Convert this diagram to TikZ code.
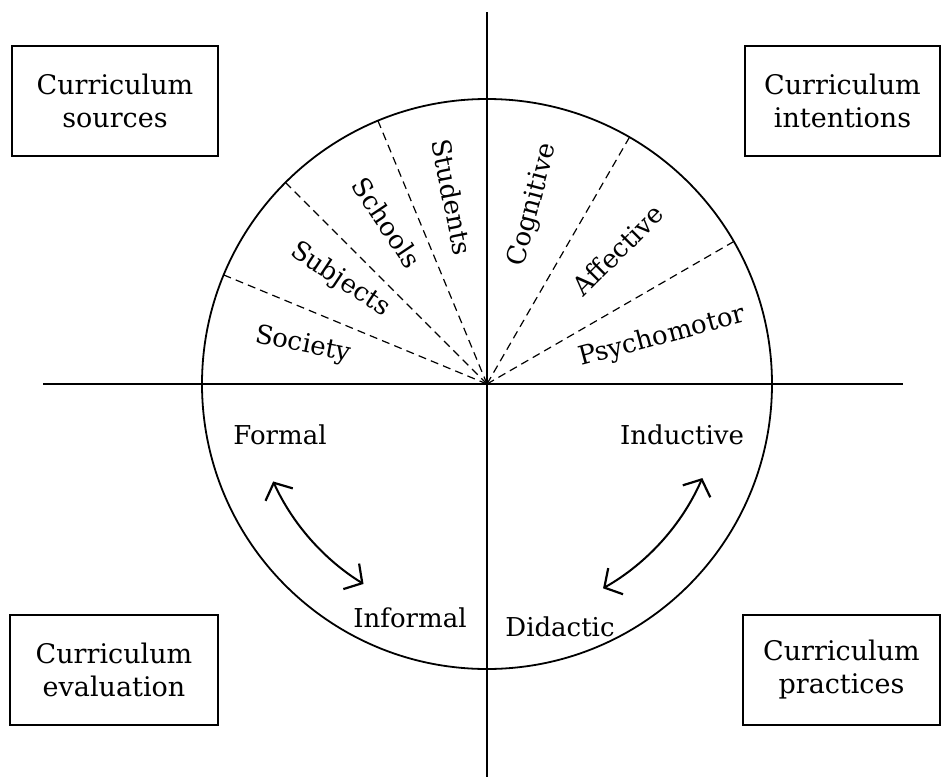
\documentclass[tikz,border=0pt]{standalone}
\usepackage{fontspec}
\setmainfont{DejaVu Serif}
\usetikzlibrary{arrows.meta}
\begin{document}
\begin{tikzpicture}[x=0.5pt,y=-0.5pt,
  mainline/.style={line width=1.2pt},
  rim/.style={line width=0.9pt},
  divider/.style={line width=0.6pt, dash pattern=on 4pt off 2.6pt},
  boxlabel/.style={draw, line width=1pt, minimum height=55pt, align=center, inner sep=0pt, font=\fontsize{13.5}{16.5}\selectfont},
  seglabel/.style={font=\fontsize{13}{15}\selectfont, inner sep=0pt},
  barb/.tip={Straight Barb[length=6.5pt,width=15pt,line width=1.1pt]},
  swing/.style={line width=1pt, barb-barb}
]
\useasboundingbox (0,0) rectangle (950,777);
\coordinate (c) at (487,384);
\coordinate (vtop) at (487,12);
\coordinate (vbot) at (487,777);
\coordinate (hl) at (43,384);
\coordinate (hr) at (903,384);

% axes
\draw[mainline] (vtop) -- (vbot);
\draw[mainline] (hl) -- (hr);

% circle
\draw[rim] (c) circle[radius=285];

% dividers (visual angle a -> (-a:r) because y points down)
\foreach \a in {112.5,135,157.5,30,60}
  \draw[divider] (c) -- ++(-\a:285);

% sector labels
\node[seglabel, rotate=-11.25] (society) at (303,345) {Society};
\node[seglabel, rotate=-33.75] (subjects) at (340,280) {Subjects};
\node[seglabel, rotate=-56.25] (schools) at (387,223) {Schools};
\node[seglabel, rotate=-78.75] (students) at (452,197) {Students};
\node[seglabel, rotate=75] (cognitive) at (533,205) {Cognitive};
\node[seglabel, rotate=45] (affective) at (618,250) {Affective};
\node[seglabel, rotate=15] (psychomotor) at (662,337) {Psychomotor};

% lower labels
\node[seglabel] (formal) at (280,435) {Formal};
\node[seglabel] (informal) at (410,618) {Informal};
\node[seglabel] (inductive) at (682,435) {Inductive};
\node[seglabel] (didactic) at (560,627) {Didactic};

% double arrows (arcs concentric with the circle)
\draw[swing] (c) ++(-204.5:235) coordinate (fa) arc[start angle=-204.5, end angle=-238.3, radius=235] coordinate (ia);
\draw[swing] (c) ++(-336.4:235) coordinate (ina) arc[start angle=-336.4, end angle=-299.6, radius=235] coordinate (da);

% boxes
\node[boxlabel, minimum width=103pt] (sources) at (115,101) {Curriculum\\sources};
\node[boxlabel, minimum width=97.5pt] (intentions) at (842.5,101) {Curriculum\\intentions};
\node[boxlabel, minimum width=104pt] (evaluation) at (114,669.5) {Curriculum\\evaluation};
\node[boxlabel, minimum width=98.5pt] (practices) at (841.5,670) {Curriculum\\practices};
\end{tikzpicture}
\end{document}
